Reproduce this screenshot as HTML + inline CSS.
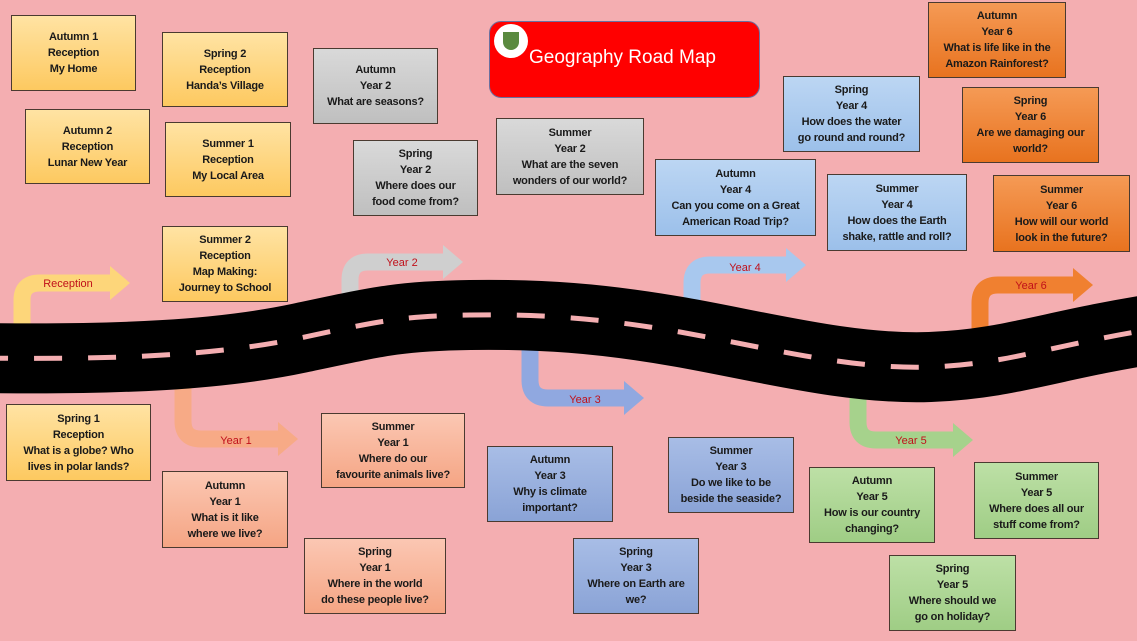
<!DOCTYPE html>
<html><head><meta charset="utf-8"><style>
body{margin:0;width:1137px;height:641px;overflow:hidden;background:#f4aeb1;position:relative;font-family:"Liberation Sans",sans-serif}
.b{position:absolute;box-sizing:border-box;border:1px solid #4a3a30;display:flex;align-items:center;justify-content:center;text-align:center;font-weight:bold;font-size:11px;line-height:16px;color:#1a1a1a;letter-spacing:-0.2px}
.r{background:linear-gradient(#ffe3a3,#fdc960)}
.y1{background:linear-gradient(#fbc7b3,#f5a584)}
.y2{background:linear-gradient(#d9d9d9,#bfbfbf)}
.y3{background:linear-gradient(#a8bde6,#8aa3d6)}
.y4{background:linear-gradient(#bcd6f3,#9cc0ea)}
.y5{background:linear-gradient(#bde0a6,#9fcd85)}
.y6{background:linear-gradient(#f59a55,#e8731f)}
svg{position:absolute;left:0;top:0}
</style></head><body>
<svg width="1137" height="641">
<g fill="none" stroke-width="17" stroke-linejoin="round">
<path d="M22 330 V300 Q22 283 40 283 H112" stroke="#fdd67a"/>
<path d="M350 305 V280 Q350 262 368 262 H445" stroke="#cfcfcf"/>
<path d="M692 305 V283 Q692 265 710 265 H788" stroke="#a8c8ee"/>
<path d="M980 330 V303 Q980 285 998 285 H1075" stroke="#f08030"/>
<path d="M183 385 V421 Q183 439 201 439 H280" stroke="#f7aa86"/>
<path d="M530 340 V380 Q530 398 548 398 H626" stroke="#90a8e0"/>
<path d="M858 385 V422 Q858 440 876 440 H955" stroke="#a6d28c"/>
</g>
<polygon points="110,266 130,283 110,300" fill="#fdd67a"/>
<polygon points="443,245 463,262 443,279" fill="#cfcfcf"/>
<polygon points="786,248 806,265 786,282" fill="#a8c8ee"/>
<polygon points="1073,268 1093,285 1073,302" fill="#f08030"/>
<polygon points="278,422 298,439 278,456" fill="#f7aa86"/>
<polygon points="624,381 644,398 624,415" fill="#90a8e0"/>
<polygon points="953,423 973,440 953,457" fill="#a6d28c"/>
<g font-size="11" fill="#c0101a" text-anchor="middle" font-family="Liberation Sans,sans-serif">
<text x="68" y="287">Reception</text><text x="402" y="266">Year 2</text><text x="745" y="271">Year 4</text>
<text x="1031" y="289">Year 6</text><text x="236" y="444">Year 1</text><text x="585" y="403">Year 3</text><text x="911" y="444">Year 5</text>
</g>
<path d="M-20 358 C120 360,220 355,300 338 S400 316,470 315 S600 318,680 332 S850 370,930 367 S1050 345,1160 328" fill="none" stroke="#000" stroke-width="70"/>
<path d="M-20 358 C120 360,220 355,300 338 S400 316,470 315 S600 318,680 332 S850 370,930 367 S1050 345,1160 328" fill="none" stroke="#f4aeb1" stroke-width="5" stroke-dasharray="28 26"/>
</svg>
<div style="position:absolute;left:489px;top:21px;width:271px;height:77px;box-sizing:border-box;background:#ff0000;border:1px solid #6a70a0;border-radius:12px"></div>
<div style="position:absolute;left:494px;top:24px;width:34px;height:34px;border-radius:50%;background:#fff"></div>
<div style="position:absolute;left:503px;top:32px;width:16px;height:18px;background:#5a8a40;border-radius:0 0 8px 8px"></div>
<div style="position:absolute;left:529px;top:47px;color:#fff;font-size:19px;font-family:'Liberation Sans',sans-serif">Geography Road Map</div>
<div class="b r" style="left:11px;top:15px;width:125px;height:76px">Autumn 1<br>Reception<br>My Home</div>
<div class="b r" style="left:162px;top:32px;width:126px;height:75px">Spring 2<br>Reception<br>Handa’s Village</div>
<div class="b r" style="left:25px;top:109px;width:125px;height:75px">Autumn 2<br>Reception<br>Lunar New Year</div>
<div class="b r" style="left:165px;top:122px;width:126px;height:75px">Summer 1<br>Reception<br>My Local Area</div>
<div class="b r" style="left:162px;top:226px;width:126px;height:76px">Summer 2<br>Reception<br>Map Making:<br>Journey to School</div>
<div class="b r" style="left:6px;top:404px;width:145px;height:77px">Spring 1<br>Reception<br>What is a globe? Who<br>lives in polar lands?</div>
<div class="b y1" style="left:162px;top:471px;width:126px;height:77px">Autumn<br>Year 1<br>What is it like<br>where we live?</div>
<div class="b y1" style="left:321px;top:413px;width:144px;height:75px">Summer<br>Year 1<br>Where do our<br>favourite animals live?</div>
<div class="b y1" style="left:304px;top:538px;width:142px;height:76px">Spring<br>Year 1<br>Where in the world<br>do these people live?</div>
<div class="b y2" style="left:313px;top:48px;width:125px;height:76px">Autumn<br>Year 2<br>What are seasons?</div>
<div class="b y2" style="left:353px;top:140px;width:125px;height:76px">Spring<br>Year 2<br>Where does our<br>food come from?</div>
<div class="b y2" style="left:496px;top:118px;width:148px;height:77px">Summer<br>Year 2<br>What are the seven<br>wonders of our world?</div>
<div class="b y3" style="left:487px;top:446px;width:126px;height:76px">Autumn<br>Year 3<br>Why is climate<br>important?</div>
<div class="b y3" style="left:573px;top:538px;width:126px;height:76px">Spring<br>Year 3<br>Where on Earth are<br>we?</div>
<div class="b y3" style="left:668px;top:437px;width:126px;height:76px">Summer<br>Year 3<br>Do we like to be<br>beside the seaside?</div>
<div class="b y4" style="left:655px;top:159px;width:161px;height:77px">Autumn<br>Year 4<br>Can you come on a Great<br>American Road Trip?</div>
<div class="b y4" style="left:783px;top:76px;width:137px;height:76px">Spring<br>Year 4<br>How does the water<br>go round and round?</div>
<div class="b y4" style="left:827px;top:174px;width:140px;height:77px">Summer<br>Year 4<br>How does the Earth<br>shake, rattle and roll?</div>
<div class="b y5" style="left:809px;top:467px;width:126px;height:76px">Autumn<br>Year 5<br>How is our country<br>changing?</div>
<div class="b y5" style="left:889px;top:555px;width:127px;height:76px">Spring<br>Year 5<br>Where should we<br>go on holiday?</div>
<div class="b y5" style="left:974px;top:462px;width:125px;height:77px">Summer<br>Year 5<br>Where does all our<br>stuff come from?</div>
<div class="b y6" style="left:928px;top:2px;width:138px;height:76px">Autumn<br>Year 6<br>What is life like in the<br>Amazon Rainforest?</div>
<div class="b y6" style="left:962px;top:87px;width:137px;height:76px">Spring<br>Year 6<br>Are we damaging our<br>world?</div>
<div class="b y6" style="left:993px;top:175px;width:137px;height:77px">Summer<br>Year 6<br>How will our world<br>look in the future?</div>
</body></html>
